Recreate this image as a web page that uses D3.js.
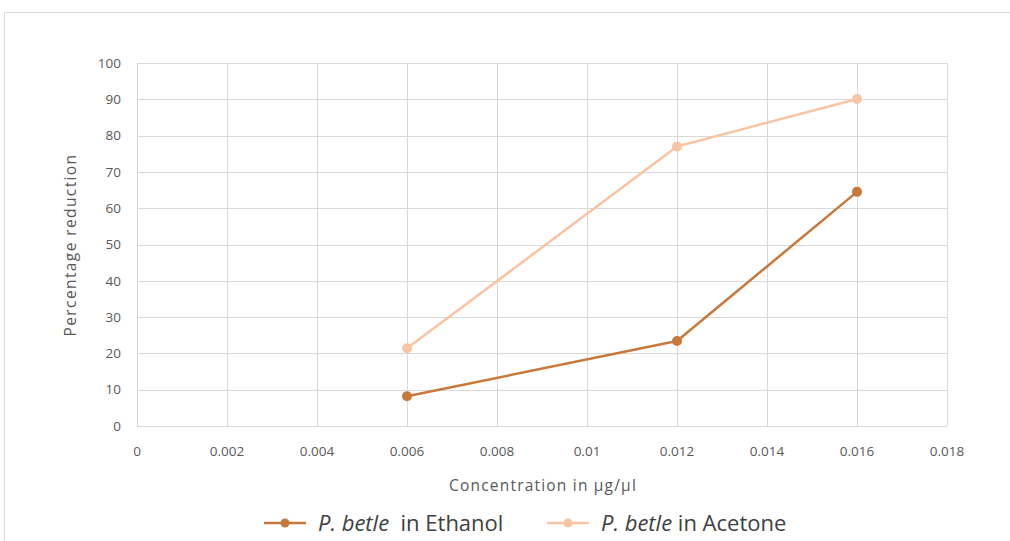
<!DOCTYPE html>
<html><head><meta charset="utf-8">
<script src="https://cdn.jsdelivr.net/npm/d3@7"></script>
<style>
body{margin:0;background:#fff;}
svg{display:block;}
</style></head>
<body><svg id="c" width="1010" height="541"></svg>
<script>
const concentrations = [0.006, 0.012, 0.016];
const ethanolValues = [8.2, 23.4, 64.5];
const acetoneValues = [21.4, 77.0, 90.1];
const xTicks = [0, 0.002, 0.004, 0.006, 0.008, 0.01, 0.012, 0.014, 0.016, 0.018];
const yTicks = [0, 10, 20, 30, 40, 50, 60, 70, 80, 90, 100];
const seriesNames = ["in Ethanol", "in Acetone"];

const svg = d3.select("#c");
const font = "'Open Sans', 'Noto Sans', sans-serif";
// chart border
svg.append("rect").attr("x", 4.5).attr("y", 12.5).attr("width", 1020).attr("height", 560)
  .attr("fill", "#fff").attr("stroke", "#d9d9d9").attr("stroke-width", 1);

const x = d3.scaleLinear().domain([0, 0.018]).range([137, 947]);
const y = d3.scaleLinear().domain([0, 100]).range([426, 63]);

// gridlines
svg.append("g").selectAll("line").data(yTicks).join("line")
  .attr("x1", 137).attr("x2", 947)
  .attr("y1", d => Math.round(y(d)) + 0.5).attr("y2", d => Math.round(y(d)) + 0.5)
  .attr("stroke", "#d9d9d9").attr("stroke-width", 1);
svg.append("g").selectAll("line").data(xTicks).join("line")
  .attr("y1", 63).attr("y2", 426)
  .attr("x1", d => Math.round(x(d)) + 0.5).attr("x2", d => Math.round(x(d)) + 0.5)
  .attr("stroke", "#d9d9d9").attr("stroke-width", 1);

// axis labels
svg.append("g").selectAll("text").data(yTicks).join("text")
  .attr("x", 121).attr("y", d => y(d)).attr("dy", "0.35em")
  .attr("text-anchor", "end").attr("font-family", font).attr("font-size", 13.5)
  .attr("fill", "#595959").text(d => d);
svg.append("g").selectAll("text").data(xTicks).join("text")
  .attr("x", d => x(d)).attr("y", 456)
  .attr("text-anchor", "middle").attr("font-family", font).attr("font-size", 13.5)
  .attr("fill", "#595959").text(d => d === 0 ? "0" : String(+d.toFixed(3)));

svg.append("text").attr("x", 543).attr("y", 491).attr("text-anchor", "middle")
  .attr("font-family", font).attr("font-size", 15.5).attr("letter-spacing", "1.2px").attr("fill", "#595959")
  .text("Concentration in µg/µl");
svg.append("text").attr("transform", "translate(76,245) rotate(-90)")
  .attr("text-anchor", "middle").attr("font-family", font).attr("font-size", 15.5)
  .attr("letter-spacing", "1.4px").attr("fill", "#595959").text("Percentage reduction");

const colors = ["#c8783a", "#f8c4a3"];
const series = [ethanolValues, acetoneValues];
const line = d3.line().x(d => x(d[0])).y(d => y(d[1]));

series.forEach((vals, i) => {
  const pts = concentrations.map((c, j) => [c, vals[j]]);
  svg.append("path").datum(pts).attr("d", line).attr("fill", "none")
    .attr("stroke", colors[i]).attr("stroke-width", 2.5).attr("stroke-linejoin", "round");
  svg.append("g").selectAll("circle").data(pts).join("circle")
    .attr("cx", d => x(d[0])).attr("cy", d => y(d[1])).attr("r", 5)
    .attr("fill", colors[i]);
});

// legend
const legendX = [264, 547];
series.forEach((vals, i) => {
  const lx = legendX[i];
  const ly = 523;
  svg.append("line").attr("x1", lx).attr("x2", lx + 42).attr("y1", ly).attr("y2", ly)
    .attr("stroke", colors[i]).attr("stroke-width", 2.5);
  svg.append("circle").attr("cx", lx + 21).attr("cy", ly).attr("r", 4.5).attr("fill", colors[i]);
  const t = svg.append("text").attr("x", lx + 54).attr("y", ly).attr("dy", "0.36em")
    .attr("font-family", font).attr("font-size", 22).attr("fill", "#404040");
  t.append("tspan").attr("font-style", "italic").text("P. betle");
  t.append("tspan").text(i === 0 ? "  " + seriesNames[i] : " " + seriesNames[i]).attr("xml:space", "preserve");
});
</script></body></html>
